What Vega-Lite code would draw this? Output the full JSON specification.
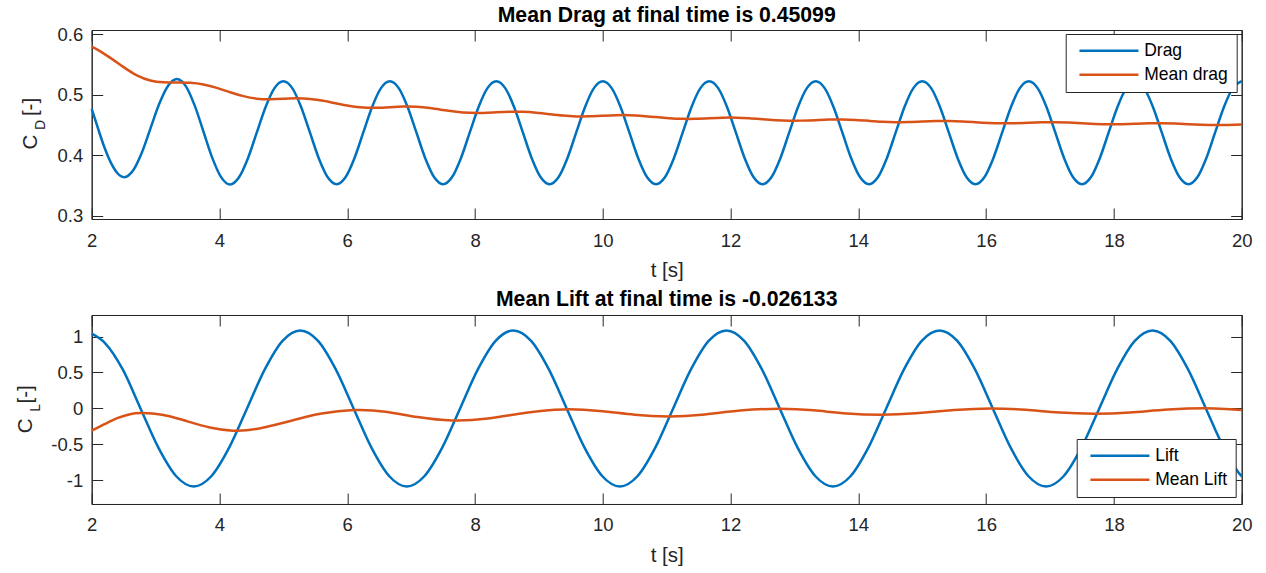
{
  "$schema": "https://vega.github.io/schema/vega-lite/v6.json",
  "background": "white",
  "padding": {"left": 14.7, "top": 4, "right": 5, "bottom": 4},
  "config": {
    "font": "Liberation Sans",
    "view": {"stroke": "#262626", "strokeWidth": 1},
    "axis": {
      "domainColor": "#262626", "domainWidth": 1,
      "tickColor": "#262626", "tickWidth": 1, "tickSize": -11,
      "labelColor": "#262626", "labelFont": "Liberation Sans", "labelFontSize": 18.5, "labelFlush": false,
      "titleColor": "#262626", "titleFont": "Liberation Sans", "titleFontSize": 20.5, "titleFontWeight": "normal",
      "grid": false
    },
    "title": {"font": "Liberation Sans", "fontSize": 21.2, "fontWeight": "bold", "color": "#000000", "anchor": "middle"},
    "legend": {
      "title": null, "orient": "none", "symbolType": "M-1,0H10.8", "symbolSize": 100, "symbolStrokeWidth": 2.5, "symbolOffset": 2,
      "labelOffset": 51, "labelFontSize": 17.5, "labelColor": "#000000", "labelFont": "Liberation Sans",
      "strokeColor": "#262626", "fillColor": "#ffffff", "padding": 8, "rowPadding": 5
    },
    "concat": {"spacing": 6}
  },
  "datasets": {
    "drag": [
      {"t":2.0,"v":0.477},{"t":2.1,"v":0.444},{"t":2.2,"v":0.413},{"t":2.3,"v":0.388},{"t":2.4,"v":0.371},{"t":2.51,"v":0.364},
      {"t":2.647,"v":0.375},{"t":2.784,"v":0.4045},{"t":2.9215,"v":0.445},{"t":3.059,"v":0.4855},{"t":3.196,"v":0.515},{"t":3.3333,"v":0.526},
      {"t":3.4722,"v":0.5143},{"t":3.6111,"v":0.4825},{"t":3.75,"v":0.439},{"t":3.8889,"v":0.3955},{"t":4.0278,"v":0.3637},{"t":4.1667,"v":0.352},
      {"t":4.3056,"v":0.3639},{"t":4.4444,"v":0.395},{"t":4.5833,"v":0.4375},{"t":4.7222,"v":0.48},{"t":4.8611,"v":0.5111},
      {"t":5.0,"v":0.5225},{"t":5.1389,"v":0.5111},{"t":5.2778,"v":0.48},{"t":5.4167,"v":0.4375},{"t":5.5556,"v":0.395},{"t":5.6944,"v":0.3639},
      {"t":5.8333,"v":0.3525},{"t":5.9722,"v":0.3639},{"t":6.1111,"v":0.395},{"t":6.25,"v":0.4375},{"t":6.3889,"v":0.48},{"t":6.5278,"v":0.5111},
      {"t":6.6667,"v":0.5225},{"t":6.8056,"v":0.5111},{"t":6.9444,"v":0.48},{"t":7.0833,"v":0.4375},{"t":7.2222,"v":0.395},{"t":7.3611,"v":0.3639},
      {"t":7.5,"v":0.3525},{"t":7.6389,"v":0.3639},{"t":7.7778,"v":0.395},{"t":7.9167,"v":0.4375},{"t":8.0556,"v":0.48},{"t":8.1944,"v":0.5111},
      {"t":8.3333,"v":0.5225},{"t":8.4722,"v":0.5111},{"t":8.6111,"v":0.48},{"t":8.75,"v":0.4375},{"t":8.8889,"v":0.395},{"t":9.0278,"v":0.3639},
      {"t":9.1667,"v":0.3525},{"t":9.3056,"v":0.3639},{"t":9.4444,"v":0.395},{"t":9.5833,"v":0.4375},{"t":9.7222,"v":0.48},{"t":9.8611,"v":0.5111},
      {"t":10.0,"v":0.5225},{"t":10.1389,"v":0.5111},{"t":10.2778,"v":0.48},{"t":10.4167,"v":0.4375},{"t":10.5556,"v":0.395},{"t":10.6944,"v":0.3639},
      {"t":10.8333,"v":0.3525},{"t":10.9722,"v":0.3639},{"t":11.1111,"v":0.395},{"t":11.25,"v":0.4375},{"t":11.3889,"v":0.48},{"t":11.5278,"v":0.5111},
      {"t":11.6667,"v":0.5225},{"t":11.8056,"v":0.5111},{"t":11.9444,"v":0.48},{"t":12.0833,"v":0.4375},{"t":12.2222,"v":0.395},{"t":12.3611,"v":0.3639},
      {"t":12.5,"v":0.3525},{"t":12.6389,"v":0.3639},{"t":12.7778,"v":0.395},{"t":12.9167,"v":0.4375},{"t":13.0556,"v":0.48},{"t":13.1944,"v":0.5111},
      {"t":13.3333,"v":0.5225},{"t":13.4722,"v":0.5111},{"t":13.6111,"v":0.48},{"t":13.75,"v":0.4375},{"t":13.8889,"v":0.395},{"t":14.0278,"v":0.3639},
      {"t":14.1667,"v":0.3525},{"t":14.3056,"v":0.3639},{"t":14.4444,"v":0.395},{"t":14.5833,"v":0.4375},{"t":14.7222,"v":0.48},{"t":14.8611,"v":0.5111},
      {"t":15.0,"v":0.5225},{"t":15.1389,"v":0.5111},{"t":15.2778,"v":0.48},{"t":15.4167,"v":0.4375},{"t":15.5556,"v":0.395},{"t":15.6944,"v":0.3639},
      {"t":15.8333,"v":0.3525},{"t":15.9722,"v":0.3639},{"t":16.1111,"v":0.395},{"t":16.25,"v":0.4375},{"t":16.3889,"v":0.48},{"t":16.5278,"v":0.5111},
      {"t":16.6667,"v":0.5225},{"t":16.8056,"v":0.5111},{"t":16.9444,"v":0.48},{"t":17.0833,"v":0.4375},{"t":17.2222,"v":0.395},{"t":17.3611,"v":0.3639},
      {"t":17.5,"v":0.3525},{"t":17.6389,"v":0.3639},{"t":17.7778,"v":0.395},{"t":17.9167,"v":0.4375},{"t":18.0556,"v":0.48},{"t":18.1944,"v":0.5111},
      {"t":18.3333,"v":0.5225},{"t":18.4722,"v":0.5111},{"t":18.6111,"v":0.48},{"t":18.75,"v":0.4375},{"t":18.8889,"v":0.395},{"t":19.0278,"v":0.3639},
      {"t":19.1667,"v":0.3525},{"t":19.3056,"v":0.3639},{"t":19.4444,"v":0.395},{"t":19.5833,"v":0.4375},{"t":19.7222,"v":0.48},{"t":19.8611,"v":0.5111},
      {"t":20.0,"v":0.5225}
    ],
    "meandrag": [
      {"t":2.0,"v":0.5797},{"t":2.0833,"v":0.575},{"t":2.2917,"v":0.561},{"t":2.5,"v":0.5457},{"t":2.7083,"v":0.532},{"t":2.9167,"v":0.5236},
      {"t":3.125,"v":0.5206},{"t":3.3333,"v":0.5202},{"t":3.5417,"v":0.5198},{"t":3.75,"v":0.517},{"t":3.9583,"v":0.5115},{"t":4.1667,"v":0.5043},
      {"t":4.375,"v":0.4978},{"t":4.5833,"v":0.4937},{"t":4.7917,"v":0.4927},{"t":5.0,"v":0.4934},{"t":5.2083,"v":0.4942},{"t":5.4167,"v":0.4932},
      {"t":5.625,"v":0.4901},{"t":5.8333,"v":0.4856},{"t":6.0417,"v":0.4814},{"t":6.25,"v":0.4789},{"t":6.4583,"v":0.4786},{"t":6.6667,"v":0.4796},
      {"t":6.875,"v":0.4806},{"t":7.0833,"v":0.4802},{"t":7.2917,"v":0.4781},{"t":7.5,"v":0.4749},{"t":7.7083,"v":0.4719},{"t":7.9167,"v":0.4702},
      {"t":8.125,"v":0.4701},{"t":8.3333,"v":0.4712},{"t":8.5417,"v":0.4721},{"t":8.75,"v":0.472},{"t":8.9583,"v":0.4705},{"t":9.1667,"v":0.4681},
      {"t":9.375,"v":0.4657},{"t":9.5833,"v":0.4644},{"t":9.7917,"v":0.4645},{"t":10.0,"v":0.4655},{"t":10.2083,"v":0.4664},{"t":10.4167,"v":0.4664},
      {"t":10.625,"v":0.4652},{"t":10.8333,"v":0.4632},{"t":11.0417,"v":0.4613},{"t":11.25,"v":0.4603},{"t":11.4583,"v":0.4604},{"t":11.6667,"v":0.4613},
      {"t":11.875,"v":0.4622},{"t":12.0833,"v":0.4623},{"t":12.2917,"v":0.4614},{"t":12.5,"v":0.4597},{"t":12.7083,"v":0.4581},{"t":12.9167,"v":0.4572},
      {"t":13.125,"v":0.4574},{"t":13.3333,"v":0.4582},{"t":13.5417,"v":0.4591},{"t":13.75,"v":0.4592},{"t":13.9583,"v":0.4584},{"t":14.1667,"v":0.457},
      {"t":14.375,"v":0.4556},{"t":14.5833,"v":0.4549},{"t":14.7917,"v":0.455},{"t":15.0,"v":0.4558},{"t":15.2083,"v":0.4566},{"t":15.4167,"v":0.4567},
      {"t":15.625,"v":0.4561},{"t":15.8333,"v":0.4548},{"t":16.0417,"v":0.4536},{"t":16.25,"v":0.453},{"t":16.4583,"v":0.4532},{"t":16.6667,"v":0.4539},
      {"t":16.875,"v":0.4546},{"t":17.0833,"v":0.4548},{"t":17.2917,"v":0.4542},{"t":17.5,"v":0.4531},{"t":17.7083,"v":0.452},{"t":17.9167,"v":0.4514},
      {"t":18.125,"v":0.4516},{"t":18.3333,"v":0.4523},{"t":18.5417,"v":0.453},{"t":18.75,"v":0.4531},{"t":18.9583,"v":0.4526},{"t":19.1667,"v":0.4516},
      {"t":19.375,"v":0.4506},{"t":19.5833,"v":0.4501},{"t":19.7917,"v":0.4503},{"t":20.0,"v":0.451}
    ],
    "lift": [
      {"t":2.0,"v":1.04},{"t":2.2079,"v":0.91},{"t":2.4858,"v":0.5425},{"t":2.7638,"v":0},{"t":3.0417,"v":-0.5425},{"t":3.3196,"v":-0.94},
      {"t":3.5975,"v":-1.085},{"t":3.8754,"v":-0.94},{"t":4.1533,"v":-0.5425},{"t":4.4313,"v":0},{"t":4.7092,"v":0.5425},{"t":4.9871,"v":0.94},
      {"t":5.265,"v":1.085},{"t":5.5429,"v":0.94},{"t":5.8208,"v":0.5425},{"t":6.0988,"v":0},{"t":6.3767,"v":-0.5425},{"t":6.6546,"v":-0.94},
      {"t":6.9325,"v":-1.085},{"t":7.2104,"v":-0.94},{"t":7.4883,"v":-0.5425},{"t":7.7663,"v":0},{"t":8.0442,"v":0.5425},{"t":8.3221,"v":0.94},
      {"t":8.6,"v":1.085},{"t":8.8779,"v":0.94},{"t":9.1558,"v":0.5425},{"t":9.4338,"v":0},{"t":9.7117,"v":-0.5425},{"t":9.9896,"v":-0.94},
      {"t":10.2675,"v":-1.085},{"t":10.5454,"v":-0.94},{"t":10.8233,"v":-0.5425},{"t":11.1013,"v":0},{"t":11.3792,"v":0.5425},{"t":11.6571,"v":0.94},
      {"t":11.935,"v":1.085},{"t":12.2129,"v":0.94},{"t":12.4908,"v":0.5425},{"t":12.7688,"v":0},{"t":13.0467,"v":-0.5425},{"t":13.3246,"v":-0.94},
      {"t":13.6025,"v":-1.085},{"t":13.8804,"v":-0.94},{"t":14.1583,"v":-0.5425},{"t":14.4363,"v":0},{"t":14.7142,"v":0.5425},{"t":14.9921,"v":0.94},
      {"t":15.27,"v":1.085},{"t":15.5479,"v":0.94},{"t":15.8258,"v":0.5425},{"t":16.1038,"v":0},{"t":16.3817,"v":-0.5425},{"t":16.6596,"v":-0.94},
      {"t":16.9375,"v":-1.085},{"t":17.2154,"v":-0.94},{"t":17.4933,"v":-0.5425},{"t":17.7713,"v":0},{"t":18.0492,"v":0.5425},{"t":18.3271,"v":0.94},
      {"t":18.605,"v":1.085},{"t":18.8829,"v":0.94},{"t":19.1608,"v":0.5425},{"t":19.4388,"v":0},{"t":19.7167,"v":-0.5425},{"t":19.9946,"v":-0.94},
      {"t":20.0,"v":-0.945}
    ],
    "meanlift": [
      {"t":2.0,"v":-0.31},{"t":2.2,"v":-0.22},{"t":2.4,"v":-0.135},{"t":2.6,"v":-0.08},{"t":2.76,"v":-0.064},{"t":2.95,"v":-0.07},
      {"t":3.2,"v":-0.105},{"t":3.5,"v":-0.18},{"t":3.85,"v":-0.265},{"t":4.21,"v":-0.31},{"t":4.6,"v":-0.283},{"t":5.15,"v":-0.165},
      {"t":5.6,"v":-0.072},{"t":6.1,"v":-0.022},{"t":6.6,"v":-0.045},{"t":7.1,"v":-0.12},{"t":7.65,"v":-0.168},{"t":8.2,"v":-0.14},
      {"t":8.8,"v":-0.06},{"t":9.38,"v":-0.014},{"t":9.95,"v":-0.035},{"t":10.5,"v":-0.088},{"t":11.03,"v":-0.111},{"t":11.55,"v":-0.088},
      {"t":12.15,"v":-0.03},{"t":12.77,"v":-0.005},{"t":13.3,"v":-0.027},{"t":13.82,"v":-0.07},{"t":14.36,"v":-0.088},{"t":14.9,"v":-0.068},
      {"t":15.5,"v":-0.022},{"t":16.08,"v":0.0},{"t":16.62,"v":-0.02},{"t":17.15,"v":-0.058},{"t":17.7,"v":-0.074},{"t":18.25,"v":-0.056},
      {"t":18.85,"v":-0.015},{"t":19.42,"v":0.003},{"t":19.75,"v":-0.008},{"t":20.0,"v":-0.022}
    ]
  },
  "vconcat": [
    {
      "width": 1150, "height": 189,
      "title": {"text": "Mean Drag at final time is 0.45099", "offset": -1},
      "layer": [
        {
          "data": {"name": "drag"},
          "mark": {"type": "line", "interpolate": "monotone", "strokeWidth": 2.5},
          "encoding": {
            "x": {"field": "t", "type": "quantitative", "scale": {"domain": [2, 20], "nice": false, "zero": false},
                  "axis": {"orient": "bottom", "values": [2,4,6,8,10,12,14,16,18,20], "title": "t [s]", "labelPadding": 23, "titlePadding": 11}},
            "y": {"field": "v", "type": "quantitative", "scale": {"domain": [0.295, 0.607], "nice": false, "zero": false},
                  "axis": {"orient": "left", "values": [0.3,0.4,0.5,0.6], "labelPadding": 20, "labelExpr": "replace(format(datum.value, '~g'), '\u2212', '-')",
                           "title": "C", "titleAngle": 270, "titleAlign": "center", "titleBaseline": "alphabetic", "titleX": -54.7, "titleY": 111.5}},
            "color": {"datum": "Drag", "type": "nominal",
                      "scale": {"domain": ["Drag", "Mean drag"], "range": ["#0072BD", "#D95319"]},
                      "legend": {"legendX": 974, "legendY": 4}}
          }
        },
        {
          "data": {"name": "meandrag"},
          "mark": {"type": "line", "interpolate": "natural", "strokeWidth": 2.5},
          "encoding": {
            "x": {"field": "t", "type": "quantitative",
                  "axis": {"orient": "top", "values": [2,4,6,8,10,12,14,16,18,20], "labels": false,
                           "title": "[-]", "titleAngle": 270, "titleAlign": "center", "titleBaseline": "alphabetic", "titleX": -54.7, "titleY": 76.5}},
            "y": {"field": "v", "type": "quantitative",
                  "axis": {"orient": "right", "values": [0.3,0.4,0.5,0.6], "labels": false,
                           "title": "D", "titleFontSize": 14, "titleAngle": 270, "titleAlign": "center", "titleBaseline": "alphabetic", "titleX": -1196.7, "titleY": 94.5}},
            "color": {"datum": "Mean drag", "type": "nominal"}
          }
        }
      ],
      "resolve": {"axis": {"x": "independent", "y": "independent"}}
    },
    {
      "width": 1150, "height": 189,
      "title": {"text": "Mean Lift at final time is -0.026133", "offset": 4},
      "layer": [
        {
          "data": {"name": "lift"},
          "mark": {"type": "line", "interpolate": "monotone", "strokeWidth": 2.5},
          "encoding": {
            "x": {"field": "t", "type": "quantitative", "scale": {"domain": [2, 20], "nice": false, "zero": false},
                  "axis": {"orient": "bottom", "values": [2,4,6,8,10,12,14,16,18,20], "title": "t [s]", "labelPadding": 23, "titlePadding": 11}},
            "y": {"field": "v", "type": "quantitative", "scale": {"domain": [-1.33, 1.3], "nice": false, "zero": false},
                  "axis": {"orient": "left", "values": [-1,-0.5,0,0.5,1], "labelPadding": 20, "labelExpr": "replace(format(datum.value, '~g'), '\u2212', '-')",
                           "title": "C", "titleAngle": 270, "titleAlign": "center", "titleBaseline": "alphabetic", "titleX": -59.7, "titleY": 110.3}},
            "color": {"datum": "Lift", "type": "nominal",
                      "scale": {"domain": ["Lift", "Mean Lift"], "range": ["#0072BD", "#D95319"]},
                      "legend": {"legendX": 985, "legendY": 124}}
          }
        },
        {
          "data": {"name": "meanlift"},
          "mark": {"type": "line", "interpolate": "natural", "strokeWidth": 2.5},
          "encoding": {
            "x": {"field": "t", "type": "quantitative",
                  "axis": {"orient": "top", "values": [2,4,6,8,10,12,14,16,18,20], "labels": false,
                           "title": "[-]", "titleAngle": 270, "titleAlign": "center", "titleBaseline": "alphabetic", "titleX": -59.7, "titleY": 78.8}},
            "y": {"field": "v", "type": "quantitative",
                  "axis": {"orient": "right", "values": [-1,-0.5,0,0.5,1], "labels": false,
                           "title": "L", "titleFontSize": 14, "titleAngle": 270, "titleAlign": "center", "titleBaseline": "alphabetic", "titleX": -1201.7, "titleY": 92.3}},
            "color": {"datum": "Mean Lift", "type": "nominal"}
          }
        }
      ],
      "resolve": {"axis": {"x": "independent", "y": "independent"}}
    }
  ],
  "resolve": {"scale": {"color": "independent"}, "legend": {"color": "independent"}}
}
